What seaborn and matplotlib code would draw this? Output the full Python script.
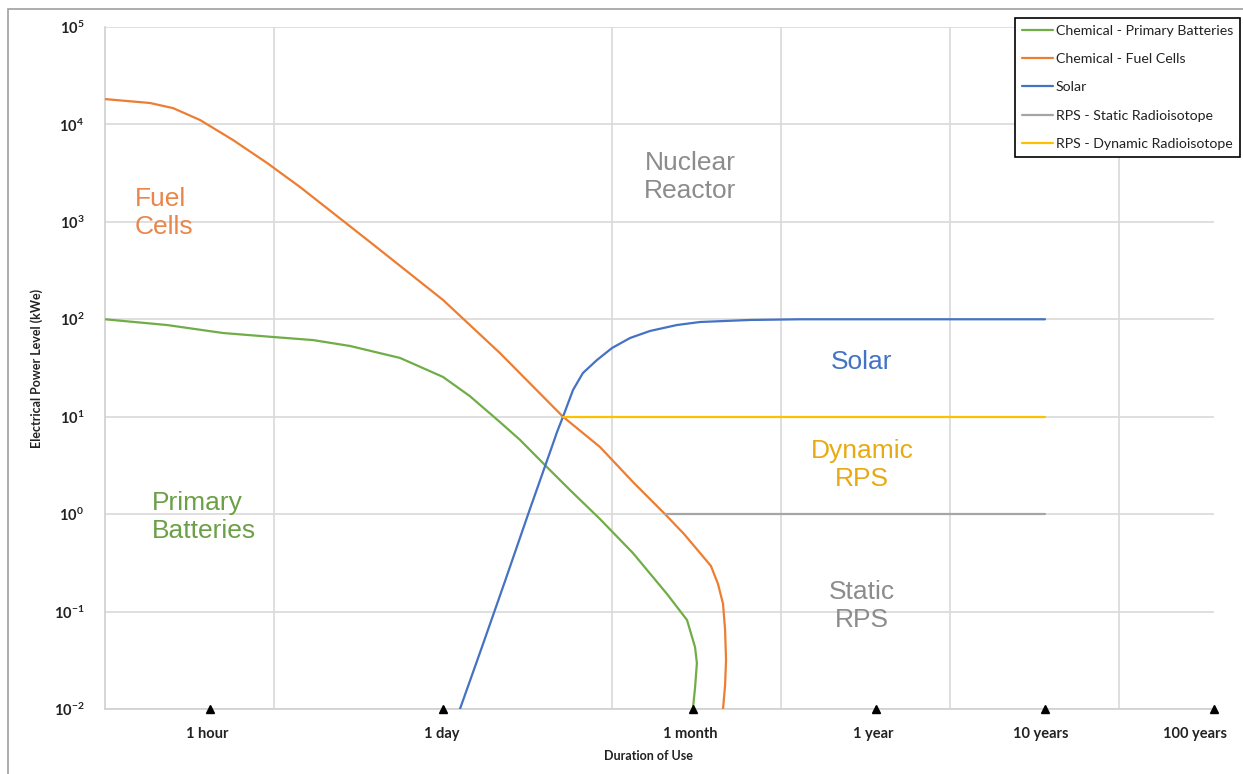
import numpy as np
import pandas as pd
import matplotlib
matplotlib.use("Agg")
import matplotlib.pyplot as plt
from matplotlib.patches import Rectangle
from matplotlib.transforms import ScaledTranslation
from matplotlib.ticker import FixedLocator, NullLocator, NullFormatter
import seaborn as sns

# ---- data: duration of use (days) vs electrical power level (kWe) ----
battery_days = [0.01, 0.0233, 0.0499, 0.0986, 0.170, 0.282, 0.557, 1.0, 1.44, 2.17,
                2.86, 4.01, 5.64, 8.49, 13.3, 21.2, 27.8, 31.0, 31.8, 31.0, 30.1]
battery_kwe = [100, 87.3, 72.3, 65.8, 61.2, 53.2, 40.1, 25.6, 16.3, 8.83,
               5.77, 3.19, 1.77, 0.891, 0.399, 0.151, 0.0818, 0.0432, 0.0296, 0.0164, 0.01]

fuelcell_days = [0.01, 0.01845, 0.0253, 0.0365, 0.0572, 0.0910, 0.1425, 0.370, 1.0, 2.17,
                 5.13, 8.49, 13.3, 20.6, 26.7, 33.2, 38.5, 42.4, 45.4, 46.7, 47.3, 46.7, 45.4]
fuelcell_kwe = [18200, 16600, 14700, 11100, 6920, 4020, 2280, 621, 158, 45.1,
                10, 4.89, 2.14, 1.0, 0.625, 0.399, 0.294, 0.192, 0.120, 0.0647, 0.0318, 0.0176, 0.01]

solar_days = [1.26, 1.70, 2.33, 3.27, 4.30, 4.73, 5.13, 5.88, 6.73, 8.15, 10.0,
              12.8, 16.8, 24.2, 33.2, 65.6, 130, 3650]
solar_kwe = [0.01, 0.0432, 0.206, 1.13, 4.34, 6.97, 10, 18.8, 28.1, 38.2, 50.7,
             64.3, 75.9, 87.3, 93.8, 98.4, 100, 100]

static_rps_days = [20.6, 3650]
static_rps_kwe = [1.0, 1.0]

dynamic_rps_days = [5.13, 3650]
dynamic_rps_kwe = [10, 10]

series_names = ["Chemical - Primary Batteries", "Chemical - Fuel Cells", "Solar",
                "RPS - Static Radioisotope", "RPS - Dynamic Radioisotope"]
series_colors = ["#70AD47", "#ED7D31", "#4472C4", "#A5A5A5", "#FFC000"]

# duration markers along the bottom axis
tick_days = [1 / 24, 1, 30, 365, 3650, 36500]
tick_labels = ["1 hour", "1 day", "1 month", "1 year", "10 years", "100 years"]
tick_label_shift_px = [-2, -1, -2, -3, -4, -19]
grid_days = [0.1, 1, 10, 100, 1000, 10000]
x_limits = [0.01, 36500]

y_ticks = [0.01, 0.1, 1, 10, 100, 1000, 10000, 100000]
y_tick_labels = [r"$\mathbf{10^{-2}}$", r"$\mathbf{10^{-1}}$", r"$\mathbf{10^{0}}$",
                 r"$\mathbf{10^{1}}$", r"$\mathbf{10^{2}}$", r"$\mathbf{10^{3}}$",
                 r"$\mathbf{10^{4}}$", r"$\mathbf{10^{5}}$"]
y_limits = [0.01, 100000]

# region labels: text, x (days), y (kWe), colour, horizontal alignment
region_texts = ["Fuel\nCells", "Primary\nBatteries", "Nuclear\nReactor", "Solar",
                "Dynamic\nRPS", "Static\nRPS"]
region_x = [0.01506, 0.01897, 28.9, 301, 301, 301]
region_y = [1233, 0.935, 2884, 36.4, 3.19, 0.114]
region_colors = ["#E9874A", "#6BA046", "#8C8C8C", "#4472C4", "#E8AA12", "#8C8C8C"]
region_ha = ["left", "left", "center", "center", "center", "center"]

# ---- build long table ----
frames = []
for name, d, p in zip(series_names,
                      [battery_days, fuelcell_days, solar_days, static_rps_days, dynamic_rps_days],
                      [battery_kwe, fuelcell_kwe, solar_kwe, static_rps_kwe, dynamic_rps_kwe]):
    frames.append(pd.DataFrame({"days": d, "kwe": p, "series": name}))
df = pd.concat(frames, ignore_index=True)

sns.set_theme(style="white")
plt.rcParams["font.family"] = ["Lato", "DejaVu Sans"]
plt.rcParams["mathtext.fontset"] = "custom"
plt.rcParams["mathtext.rm"] = "Lato"
plt.rcParams["mathtext.bf"] = "Lato:bold"
plt.rcParams["mathtext.it"] = "Lato:italic"

W, H = 1243, 774
fig = plt.figure(figsize=(W / 100, H / 100), dpi=100)
ax = fig.add_axes([105 / W, 1 - 709 / H, (1214 - 105) / W, (709 - 27) / H])
ax.set_xscale("log")
ax.set_yscale("log")

sns.lineplot(data=df, x="days", y="kwe", hue="series", hue_order=series_names,
             palette=dict(zip(series_names, series_colors)), sort=False,
             estimator=None, linewidth=1.6, ax=ax, zorder=3)

ax.set_xlim(*x_limits)
ax.set_ylim(*y_limits)

# axes, ticks and grid
grid_color = "#D9D9D9"
ax.set_xticks(tick_days)
ax.set_xticklabels([])
ax.xaxis.set_minor_locator(FixedLocator(grid_days))
ax.xaxis.set_minor_formatter(NullFormatter())
ax.set_yticks(y_ticks)
ax.set_yticklabels(y_tick_labels, fontsize=10.5)
ax.yaxis.set_minor_locator(NullLocator())
ax.tick_params(axis="x", which="both", length=0)
ax.tick_params(axis="y", which="both", length=0, pad=15, colors="#222222")
ax.grid(False)
ax.grid(True, axis="x", which="minor", color=grid_color, linewidth=1.2)
ax.grid(True, axis="y", which="major", color=grid_color, linewidth=1.2)
for side in ["top", "right"]:
    ax.spines[side].set_visible(False)
for side in ["left", "bottom"]:
    ax.spines[side].set_color("#D0D0D0")
    ax.spines[side].set_linewidth(1.2)

# duration tick markers and their labels
ax.plot(tick_days, [y_limits[0]] * len(tick_days), linestyle="none", marker="^",
        color="black", markersize=6, clip_on=False, zorder=6)
xaxis_tr = ax.get_xaxis_transform()
for d, lab, dx in zip(tick_days, tick_labels, tick_label_shift_px):
    ax.text(d, 0, lab, ha="center", va="center", fontsize=10.5, fontweight="bold",
            color="#222222", clip_on=False,
            transform=xaxis_tr + ScaledTranslation(dx / 100, -25 / 100, fig.dpi_scale_trans))

ax.set_xlabel("Duration of Use", fontweight="bold", fontsize=9, color="#222222")
ax.set_ylabel("Electrical Power Level (kWe)", fontweight="bold", fontsize=9, color="#222222")
ax.xaxis.set_label_coords(0.49, -0.060)
ax.yaxis.set_label_coords(-0.0555, 0.5)

# region labels
for t, x, y, c, ha in zip(region_texts, region_x, region_y, region_colors, region_ha):
    ax.text(x, y, t, color=c, ha=ha, va="center", fontsize=19,
            family=["Liberation Sans", "DejaVu Sans"], linespacing=1.25, zorder=4)

# legend
handles, labels = ax.get_legend_handles_labels()
leg = ax.legend(handles, labels, loc="upper right",
                bbox_to_anchor=(1240 / W, 1 - 18 / H), bbox_transform=fig.transFigure,
                fontsize=10.2, frameon=True, fancybox=False, framealpha=1,
                edgecolor="black", borderpad=0.5, labelspacing=1.14,
                handlelength=2.2, handletextpad=0.2, borderaxespad=0)
leg.get_frame().set_linewidth(1.2)
for line in leg.get_lines():
    line.set_linewidth(1.6)
for txt in leg.get_texts():
    txt.set_color("#222222")

# outer frame
fig.add_artist(Rectangle((8 / W, -0.1), 1.2, 1 - 9 / H + 0.1, transform=fig.transFigure,
                         fill=False, edgecolor="#A0A0A0", linewidth=1.2))

fig.savefig("out.png", dpi=100)
